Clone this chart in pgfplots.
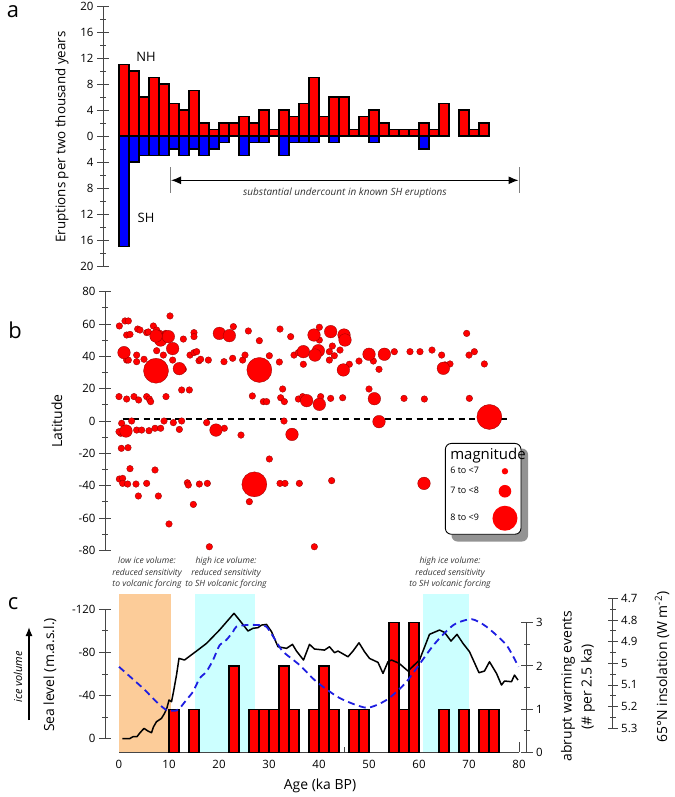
\documentclass[border=0pt]{standalone}
\usepackage{pgfplots}
\pgfplotsset{compat=1.18}
\usepackage{fontspec}
\setmainfont{Open Sans}
\usetikzlibrary{arrows.meta}
\definecolor{peach}{RGB}{252,204,153}
\definecolor{lcyan}{RGB}{204,255,255}
\definecolor{axgray}{RGB}{70,70,70}
\definecolor{dblue}{RGB}{30,30,225}
\newcommand\fs[2]{\fontsize{#1}{#2}\selectfont}
\pgfplotsset{
  every axis/.append style={scale only axis, clip=false,
    /pgf/number format/assume math mode=true,
    tick label style={font=\fs{11.5}{13}},
    axis line style={axgray, line width=1bp, -},
    every tick/.style={axgray, line width=0.9bp},
    major tick length=12bp, minor tick length=6bp, tick align=outside},
}
\begin{document}
\begin{tikzpicture}[x=1bp,y=1bp]
\path[use as bounding box] (0,0) rectangle (675,-797);

% ---------------- panel a ----------------
\begin{axis}[at={(103bp,-266bp)}, anchor=south west, width=416bp, height=260bp,
  xmin=-3.2, xmax=80, ymin=-20, ymax=20,
  axis x line=none, axis y line=left, y axis line style={-},
  ytick={-20,-16,...,20}, yticklabels={20,16,12,8,4,0,4,8,12,16,20},
  minor ytick={-18,-14,...,18}]
\addplot[ybar, bar width=2, bar shift=0pt, fill=red, draw=black, line width=1.2bp]
 coordinates {(1,11)(3,10)(5,6)(7,9)(9,8)(11,5)(13,4)(15,7)(17,2)(19,1)(21,2)(23,2)(25,3)(27,2)(29,4)(31,1)(33,4)(35,3)(37,5)(39,9)(41,3)(43,6)(45,6)(47,1)(49,3)(51,4)(53,2)(55,1)(57,1)(59,1)(61,2)(63,1)(65,5)(69,4)(71,1)(73,2)};
\addplot[ybar, bar width=2, bar shift=0pt, fill=blue, draw=black, line width=1.2bp]
 coordinates {(1,-17)(3,-4)(5,-3)(7,-3)(9,-3)(11,-2)(13,-3)(15,-2)(17,-3)(19,-2)(21,-1)(25,-3)(27,-1)(29,-1)(33,-3)(35,-1)(37,-1)(39,-1)(43,-1)(51,-1)(61,-2)};
\end{axis}
\node[font=\fs{22}{24}] at (13,-12) {a};
\node[rotate=90, font=\fs{13.4}{16}] at (62,-137) {Eruptions per two thousand years};
\node[font=\fs{13}{15}] at (146,-57) {NH};
\node[font=\fs{13}{15}] at (146,-218) {SH};
\draw[gray, line width=1bp] (170,-167) -- (170,-193);
\draw[gray, line width=1bp] (519.3,-167) -- (519.3,-193);
\draw[black, line width=1.2bp, {Latex[length=10bp,width=8bp]}-{Latex[length=10bp,width=8bp]}] (171,-180.3) -- (518.5,-180.3);
\node[font=\fs{10}{12}\itshape, text=black!80] at (345,-193) {substantial undercount in known SH eruptions};

% ---------------- panel b ----------------
\fill[gray!85, rounded corners=6bp] (451.5,-448.5) rectangle (528,-541.5);
\begin{axis}[at={(105bp,-550.3bp)}, anchor=south west, width=414bp, height=258.6bp,
  xmin=-2.8, xmax=80, ymin=-80, ymax=80,
  axis x line=none, axis y line=left, y axis line style={-},
  ytick={-80,-60,...,80}, minor ytick={-70,-50,...,70},
  legend style={at={(0.821,0.415)}, anchor=north west, draw=black, line width=0.9bp,
    rounded corners=6bp, fill=white,
    font=\fs{9}{11}, inner xsep=3bp, inner ysep=3bp, row sep=2bp},
  legend plot pos=right, legend cell align=left]
\addplot[black, line width=1.8bp, dash pattern=on 6bp off 4.5bp, forget plot]
 coordinates {(0.7,1.3)(78.3,1.3)};
\addplot[only marks, mark=*, mark size=3.3bp, mark options={fill=red, draw=red!55!black, line width=0.3bp}, forget plot]
 coordinates {
 (0.07,58.8)(1.2,61.9)(1.87,61.9)(1.53,53.2)(2.2,53.6)(3.73,56.9)(4.2,56.3)(5.53,54.7)(5.87,55.1)(6.87,58.8)(7.53,56.3)(8.2,54.2)(10.2,65)(9.33,54.2)(12.87,50.7)(15,54.7)(15,52.2)(22.87,58.4)(25.87,55.7)(28.07,49.7)(32.2,56.9)(34.33,52.2)
 (1.53,37.7)(1.87,37.7)(3.53,40.8)(3.53,36.7)(5,38.2)(7.53,43.5)(8.87,40.8)(10.73,37.7)(14.2,40.8)(15,42.3)(15.53,42.9)(16,37.3)(16.33,38.2)(17.87,37.7)(21,36.7)(22.73,38.8)(24.73,37.7)(25.2,40.8)(30.07,40.4)(32.07,36.5)(35,40.8)(35.87,42.3)
 (12.87,32)
 (0,15.1)(1.53,13.6)(3,15.1)(3.93,13)(5.53,15.1)(6.07,13.6)(6.33,12)(9.4,15.1)(12.53,19.2)(14.07,19.2)(26.67,15.5)(28.87,12)(29.53,12)(32.33,14.4)(32.73,19.8)(33.07,12)(35.87,13.6)
 (0.53,-1.4)(0.33,-7.6)(0,-6.6)(2.53,0)(3.53,-5.6)(4.53,-5.6)(6,-6)(7.2,-4.5)(8.33,-4.5)(9,0)(10.87,-1)(12.07,-5.2)(12.53,0)(17.53,-1)(21.07,-4.5)(24.4,-8.7)(33,0)
 (0.47,-16.9)(1.8,-16.5)(2.2,-29.5)(7.2,-30.3)(30.07,-23.5)
 (0.07,-35.9)(0.73,-35.5)(0.73,-38.6)(1.73,-39)(3.4,-39)(5.53,-38.6)(13.67,-38.2)(13.87,-39.6)(16.07,-39)(17.67,-38.6)(32.2,-38.6)(33.2,-38.6)(36.07,-38.6)
 (3.87,-46.4)(7.87,-46.4)(14.87,-51.6)(26.07,-49.9)(10,-63.7)(18.07,-77.8)
 (40.07,58)(40.07,50.1)(42.67,46.4)(42.07,42.9)(43.07,40.4)(44.2,43.9)(42.07,37.7)(36.87,35.1)(48,37.1)(46.07,35.1)(50.87,37.1)(52,32)(55.07,42.9)(58.2,42.9)(60.2,42.9)(62.6,43.9)(64.53,40.8)(65.2,34.7)(66.2,35.3)(69.53,54.2)(70,40.8)(71.07,42.9)(73.07,35.3)
 (36.73,15.1)(40.33,15.1)(42.33,14)(44.73,14.4)(50,19.8)(57,14)(61.07,13.6)(70.07,14)
 (42.53,-36.9)(39.07,-77.8)};
\addplot[only marks, mark=*, mark size=6.3bp, mark options={fill=red, draw=red!55!black, line width=0.3bp}, forget plot]
 coordinates {(20.07,54.2)(22.07,52.8)(1,42.3)(10.73,44.8)(8.33,50.1)(9.87,52.2)(7.4,52.6)(12.07,32.4)(1.4,-6.2)(19.4,-5.6)(34.6,-8.3)(39,53.2)(42.33,55.3)(45,53.2)(45.2,50.1)(36.87,42.9)(39.87,43.5)(39.2,40.8)(44.87,31.6)(50,41.3)(53.07,41.3)(64.87,32.6)(37.53,12.6)(40.07,10.3)(51.07,13.8)(52,-0.4)(61,-38.6)};
\addplot[only marks, mark=*, mark size=12.5bp, mark options={fill=red, draw=red!55!black, line width=0.3bp}, forget plot]
 coordinates {(7.4,31.1)(28.07,31.6)(27.07,-39.2)(74.07,2.5)};
\addlegendimage{empty legend}
\addlegendentry{\makebox[0pt][l]{\fs{15}{17}magnitude}}
\addlegendimage{legend image code/.code={\path[draw=none,fill=none] (-24bp,-4bp) rectangle (13bp,4bp); \fill[red, draw=none] (0,0) circle (3.2bp);}}
\addlegendentry{6 to <7}
\addlegendimage{legend image code/.code={\path[draw=none,fill=none] (-24bp,-12bp) rectangle (13bp,12bp); \fill[red, draw=none] (0,0) circle (6.3bp);}}
\addlegendentry{7 to <8}
\addlegendimage{legend image code/.code={\path[draw=none,fill=none] (-24bp,-13bp) rectangle (13bp,13bp); \fill[red, draw=none] (0,0) circle (12.5bp);}}
\addlegendentry{8 to <9}
\end{axis}
\node[font=\fs{22}{24}] at (15,-330) {b};
\node[rotate=90, font=\fs{14}{16}] at (57,-421) {Latitude};

% ---------------- panel c ----------------
\begin{axis}[at={(119bp,-752.3bp)}, anchor=south west, width=400bp, height=158.3bp,
  xmin=0, xmax=80, ymin=0, ymax=3.664,
  axis x line=bottom, axis y line=none, x axis line style={-},
  xtick={0,10,...,80}, minor xtick={5,15,...,75},
  tick align=inside, major tick length=10bp, minor tick length=5bp,
  xticklabel style={yshift=-4bp}]
\addplot[fill=peach, draw=none] coordinates {(0,0)(0,3.664)(10.3,3.664)(10.3,0)} -- cycle;
\addplot[fill=lcyan, draw=none] coordinates {(15.1,0)(15.1,3.664)(27.1,3.664)(27.1,0)} -- cycle;
\addplot[fill=lcyan, draw=none] coordinates {(60.7,0)(60.7,3.664)(70,3.664)(70,0)} -- cycle;
\addplot[ybar, bar width=2, bar shift=0pt, fill=red, draw=black, line width=1.2bp]
 coordinates {(11,1)(15,1)(23,2)(27,1)(29,1)(31,1)(33,2)(35,1)(39,1)(41,2)(43,1)(47,1)(49,1)(55,3)(57,1)(59,3)(65,1)(69,1)(73,1)(75,1)};
\end{axis}
\begin{axis}[at={(119bp,-752.3bp)}, anchor=south west, width=400bp, height=158.3bp,
  xmin=0, xmax=80, ymin=-134.2, ymax=12.6, y dir=reverse, hide axis]
\addplot[black, line width=1.5bp, line join=round] coordinates {
(0.67,0)(2.1,0)(2.8,-1.9)(3.6,-1.9)(4.1,-5)(5,-9.6)(5.8,-7.1)(6.5,-5.6)(6.9,-11)(7.5,-15.8)(8.5,-18.9)(9.1,-23.5)(9.6,-28.8)(10,-35.9)(10.5,-34.3)(10.9,-43.6)(11.5,-59)(12,-74.5)(13.1,-73)(15.5,-81.3)(17.5,-88.4)(20.1,-100.8)(23,-116.3)(24.1,-110)(25.8,-99.9)(26.8,-102.4)(27.8,-103)(28.5,-105.4)(29.5,-106)(30.5,-99.3)(31.8,-85.3)(33.5,-83.8)(34.7,-87.5)(35.5,-81.3)(36.9,-73)(38.1,-87.5)(39.1,-83.2)(41.1,-82.2)(42.1,-85.3)(43.1,-79.8)(43.8,-81.3)(45.8,-76)(46.8,-81.3)(48,-89)(49.1,-80.7)(50.1,-74.5)(51.8,-70.8)(52.8,-60.6)(53.8,-71.4)(54.5,-73)(56,-70)(57.8,-62.8)(60.1,-73)(62.1,-96.8)(64.1,-100.8)(65.1,-98.6)(66.4,-90.6)(67.6,-96.8)(68.8,-88.4)(70.1,-80.7)(72,-61.2)(73.1,-62.8)(74.1,-71.4)(75.5,-60.6)(76.5,-49.8)(77.1,-53.5)(78.5,-52.9)(79.1,-59)(79.8,-54.4)};
\end{axis}
\begin{axis}[at={(119bp,-752.3bp)}, anchor=south west, width=400bp, height=158.3bp,
  xmin=0, xmax=80, ymin=4.680, ymax=5.4107, y dir=reverse, hide axis]
\addplot[dblue, line width=1.8bp, dash pattern=on 7bp off 4.5bp, smooth, tension=0.4] coordinates {
(0,5.016)(4.8,5.115)(7.47,5.177)(9.47,5.215)(11.47,5.218)(12.13,5.208)(13.47,5.169)(14.8,5.131)(16.13,5.069)(17.47,5.039)(18.8,4.985)(20.13,4.916)(21.47,4.892)(22.8,4.854)(23.47,4.831)(25.47,4.823)(27.47,4.823)(29.47,4.831)(31.47,4.9)(32.8,4.946)(36.13,5.008)(39.5,5.085)(44.2,5.161)(49.5,5.205)(53.5,5.169)(57.5,5.085)(62.9,4.916)(66.9,4.823)(70.5,4.796)(73.5,4.831)(77.5,4.916)(79.9,5.016)};
\end{axis}
\begin{axis}[at={(105bp,-738.7bp)}, anchor=south west, width=10bp, height=129.4bp,
  xmin=0, xmax=1, ymin=-120, ymax=0, y dir=reverse,
  axis x line=none, axis y line=left, y axis line style={-},
  ytick={-120,-80,-40,0}, minor ytick={-100,-60,-20}]
\end{axis}
\begin{axis}[at={(526.7bp,-752.3bp)}, anchor=south east, width=10bp, height=129.6bp,
  xmin=0, xmax=1, ymin=0, ymax=3,
  axis x line=none, axis y line=right, y axis line style={-},
  ytick={0,1,2,3}, minor ytick={0.5,1.5,2.5}]
\end{axis}
\begin{axis}[at={(612.7bp,-728.3bp)}, anchor=south east, width=10bp, height=130bp,
  xmin=0, xmax=1, ymin=4.7, ymax=5.3, y dir=reverse,
  axis x line=none, axis y line=right, y axis line style={-},
  major tick length=10bp, minor tick length=6bp,
  ytick={4.7,4.8,4.9,5,5.1,5.2,5.3}, yticklabels={4.7,4.8,4.9,5,5.1,5.2,5.3},
  minor ytick={4.75,4.85,4.95,5.05,5.15,5.25}]
\end{axis}
\node[font=\fs{22}{24}] at (13,-604) {c};
\node[font=\fs{8.6}{11.3}\itshape, text=black!80, align=center] at (147,-573) {low ice volume:\\reduced sensitivity\\to volcanic forcing};
\node[font=\fs{8.6}{11.3}\itshape, text=black!80, align=center] at (226,-573) {high ice volume:\\reduced sensitivity\\to SH volcanic forcing};
\node[font=\fs{8.6}{11.3}\itshape, text=black!80, align=center] at (450,-573) {high ice volume:\\reduced sensitivity\\to SH volcanic forcing};
\node[rotate=90, font=\fs{11}{13}\itshape] at (18,-677) {ice volume};
\draw[black, line width=1.3bp, -{Latex[length=9bp,width=7bp]}] (29,-720) -- (29,-627);
\node[rotate=90, font=\fs{14}{16}] at (50,-675) {Sea level (m.a.s.l.)};
\node[font=\fs{14}{16}] at (320,-786) {Age (ka BP)};
\node[rotate=90, font=\fs{14}{16}] at (568,-686) {abrupt warming events};
\node[rotate=90, font=\fs{14}{16}] at (588,-687) {(\# per 2.5 ka)};
\node[rotate=90, font=\fs{14}{16}] at (662,-667) {65°N insolation (W m\textsuperscript{-2})};
\end{tikzpicture}
\end{document}
